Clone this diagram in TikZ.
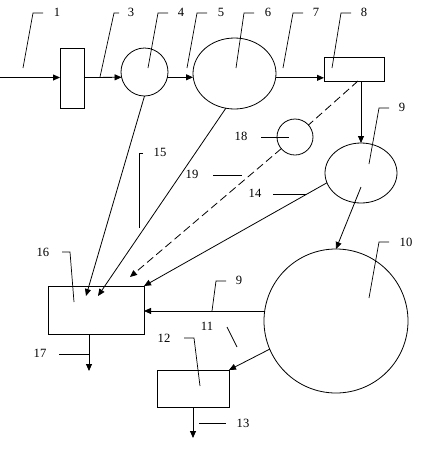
\documentclass[tikz,border=0pt]{standalone}
\usepackage{fontspec}
\setmainfont{Liberation Serif}
\usetikzlibrary{arrows.meta,shapes.geometric,calc}
\begin{document}
\begin{tikzpicture}[x=1pt,y=-1pt,line width=0.8pt,
 arr/.style={-{Triangle[length=7pt,width=6pt]}},
 box/.style={draw,rectangle,inner sep=0pt,outer sep=0pt},
 oval/.style={draw,ellipse,inner sep=0pt,outer sep=0pt},
 lbl/.style={inner sep=0pt,font=\fontsize{12.6}{14}\selectfont},
 leader/.style={line width=0.7pt},
 dsh/.style={dash pattern=on 8pt off 4pt}]
\useasboundingbox (0,0) rectangle (426,451);
% units
\node[box,minimum width=24pt,minimum height=60pt] (r2) at (72,78) {};
\node[oval,minimum width=47pt,minimum height=48pt] (c4) at (144.5,72) {};
\node[oval,minimum width=83pt,minimum height=71pt] (e6) at (234.5,73.5) {};
\node[box,minimum width=60pt,minimum height=24pt] (r8) at (354,69) {};
\node[oval,minimum width=72pt,minimum height=60pt] (e9) at (361,173) {};
\node[oval,minimum width=36pt,minimum height=36pt] (c18) at (295,137) {};
\node[oval,minimum width=144pt,minimum height=144pt] (c10) at (336,321) {};
\node[box,minimum width=96pt,minimum height=48pt] (r16) at (96,310) {};
\node[box,minimum width=72pt,minimum height=37pt] (r12) at (193,388.5) {};
% free ends
\coordinate (in) at (0,77.5);
\coordinate (d16) at (130,277);
\coordinate (a16) at (86,296);
\coordinate (b16) at (98,296);
\coordinate (o17) at (89,371);
\coordinate (o13) at (193,438);
% connectors
\draw[arr] (in) -- (in -| r2.west);
\draw[arr] (r2.east |- in) -- (c4.193);
\draw[arr] (c4.-13) -- (c4.-13 -| e6.west);
\draw[arr] (e6.-6) -- (e6.-6 -| r8.west);
\draw[arr] ([xshift=7pt]r8.south) -- (e9.north);
\draw[dsh] ([xshift=4pt]r8.south) -- (c18);
\draw[dsh,arr] (c18) -- (d16);
\draw[arr] (e9.196) -- (r16.north east);
\draw[arr] ([yshift=-14pt]e9.center) -- (c10.north);
\draw[arr] (c4.south) -- (a16);
\draw[arr] (e6.256) -- (b16);
\draw[arr] (c10.172) -- (c10.172 -| r16.east);
\draw[arr] (c10.203) -- (r12.north east);
\draw[arr] ([xshift=-7pt]r16.south) -- (o17);
\draw[arr] (r12.south) -- (o13);
% labels
\node[lbl] (l1) at (57,12) {1};
\node[lbl] (l3) at (131,12) {3};
\node[lbl] (l4) at (181,12) {4};
\node[lbl] (l5) at (221,12) {5};
\node[lbl] (l6) at (268,12) {6};
\node[lbl] (l7) at (316,12) {7};
\node[lbl] (l8) at (364,12) {8};
\node[lbl] (l9a) at (402,107) {9};
\node[lbl] (l10) at (406,242) {10};
\node[lbl] (l9b) at (239,280) {9};
\node[lbl] (l12) at (164,338) {12};
\node[lbl] (l16) at (43,252) {16};
\node[lbl] (l15) at (160,152) {15};
\node[lbl] (l18) at (241,136) {18};
\node[lbl] (l19) at (192,174) {19};
\node[lbl] (l14) at (255,193) {14};
\node[lbl] (l11) at (207,326) {11};
\node[lbl] (l13) at (243,423) {13};
\node[lbl] (l17) at (40,353) {17};
% leader lines
\draw[leader] (23,68) -- (33,13) -- (43,13);
\draw[leader] (100,77) -- (114,13) -- (119,13);
\draw[leader] (148,68) -- (158,13) -- (168,13);
\draw[leader] (187,68) -- (197,13) -- (207,13);
\draw[leader] (236,68) -- (244,13) -- (254,13);
\draw[leader] (283,68) -- (293,13) -- (303,13);
\draw[leader] (332,68) -- (341,13) -- (351,13);
\draw[leader] (369,164) -- (379,108) -- (389,108);
\draw[leader] (369,298) -- (379,242) -- (389,242);
\draw[leader] (212,311) -- (216,281) -- (226,281);
\draw[leader] (184,338) -- (194,338) -- (200,386);
\draw[leader] (62,252) -- (70,252) -- (74,302);
\draw[leader] (143,153) -- (139,153) -- (139,228);
\draw[leader] (261,137) -- (289,137);
\draw[leader] (213,175) -- (242,175);
\draw[leader] (273,194) -- (306,194);
\draw[leader] (227,327) -- (237,347);
\draw[leader] (199,423) -- (226,423);
\draw[leader] (59,354) -- (89,354);
\end{tikzpicture}
\end{document}
